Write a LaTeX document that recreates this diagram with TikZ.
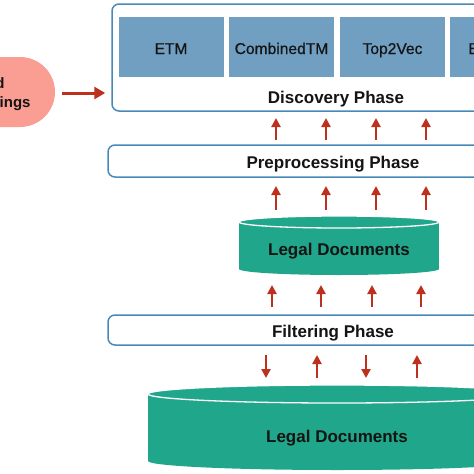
\documentclass[tikz,border=0pt]{standalone}
\usepackage{fontspec}
\setmainfont{Liberation Sans}
\newfontfamily\medfont[FakeBold=0.6]{Liberation Sans}
\usetikzlibrary{arrows.meta}
\definecolor{boxblue}{RGB}{74,136,184}
\definecolor{methodfill}{RGB}{112,159,194}
\definecolor{cylteal}{RGB}{32,166,138}
\definecolor{pinkfill}{RGB}{250,157,147}
\definecolor{arrowred}{RGB}{190,48,30}
\definecolor{txt}{RGB}{20,20,20}
\begin{document}
\begin{tikzpicture}[x=1pt,y=-1pt,
  phase/.style={draw=boxblue, line width=1.5pt, rounded corners=7pt, fill=white, inner sep=0pt},
  method/.style={fill=methodfill, minimum width=105pt, minimum height=60pt, inner sep=0pt},
  mlbl/.style={font=\medfont\fontsize{15.6}{18}\selectfont, text=txt, inner sep=0pt, anchor=base},
  lbl/.style={font=\bfseries\fontsize{17}{20}\selectfont, text=txt, inner sep=0pt, anchor=base},
  slbl/.style={font=\bfseries\fontsize{15}{18}\selectfont, text=txt, inner sep=0pt, anchor=base},
  arr/.style={draw=arrowred, line width=2.2pt, -{Triangle[length=9pt,width=9pt]}},
  bigarr/.style={draw=arrowred, line width=3pt, -{Triangle[length=11pt,width=12pt]}},
  cyl/.style={fill=cylteal},
  cyltop/.style={fill=cylteal, draw=white, line width=1.3pt}
]
\path[use as bounding box] (0,0) rectangle (474,474);
\clip (0,0) rectangle (474,474);
\fill[white] (0,0) rectangle (474,474);

% pink source
\node[fill=pinkfill, rounded corners=35pt, minimum width=200pt, minimum height=70pt, inner sep=0pt] (src) at (-45,92) {};
\node[slbl] (w1) at (-14.5,88) {Word};
\node[slbl] (w2) at (-14.5,107) {Embeddings};

% discovery phase
\node[phase, minimum width=448pt, minimum height=107pt] (disc) at (336,57.5) {};
\node[method] (etm) at (171,47) {};
\node[method] (ctm) at (281.5,47) {};
\node[method] (t2v) at (392.5,47) {};
\node[method] (bert) at (502.5,47) {};
\node[mlbl] (etml) at (171,54) {ETM};
\node[mlbl] (ctml) at (281.5,54) {CombinedTM};
\node[mlbl] (t2vl) at (392.5,54) {Top2Vec};
\node[mlbl] (bertl) at (502.5,54) {BERTopic};
\node[lbl] (discl) at (336,103.5) {Discovery Phase};

\draw[bigarr] ([xshift=7pt]src.east |- 0,93) -- ([xshift=-6pt]disc.west |- 0,93);

% preprocessing
\node[phase, minimum width=450pt, minimum height=32pt] (pre) at (333,161) {};
\node[lbl] (prel) at (333,168) {Preprocessing Phase};

% cylinder 1
\fill[cyl] (239,222) rectangle (439,269);
\fill[cyl] (339,269) ellipse (100 and 6);
\filldraw[cyltop] (339,222) ellipse (100 and 6);
\node[lbl] (docs1) at (339,255) {Legal Documents};

% filtering
\node[phase, minimum width=450pt, minimum height=30pt] (filt) at (333,330) {};
\node[lbl] (filtl) at (333,337) {Filtering Phase};

% cylinder 2
\fill[cyl] (148,394) rectangle (526,461);
\fill[cyl] (337,461) ellipse (189 and 9);
\filldraw[cyltop] (337,394) ellipse (189 and 9);
\node[lbl] (docs2) at (337,442) {Legal Documents};

% arrows
\foreach \x in {276,326,376,426} {
  \draw[arr] (\x,140) -- (\x,118);
  \draw[arr] (\x,210) -- (\x,186);
}
\foreach \x in {272,321,372,421} {
  \draw[arr] (\x,307) -- (\x,285);
}
\draw[arr] (266,355) -- (266,378);
\draw[arr] (317,378) -- (317,355);
\draw[arr] (366,355) -- (366,378);
\draw[arr] (417,378) -- (417,355);
\end{tikzpicture}
\end{document}
